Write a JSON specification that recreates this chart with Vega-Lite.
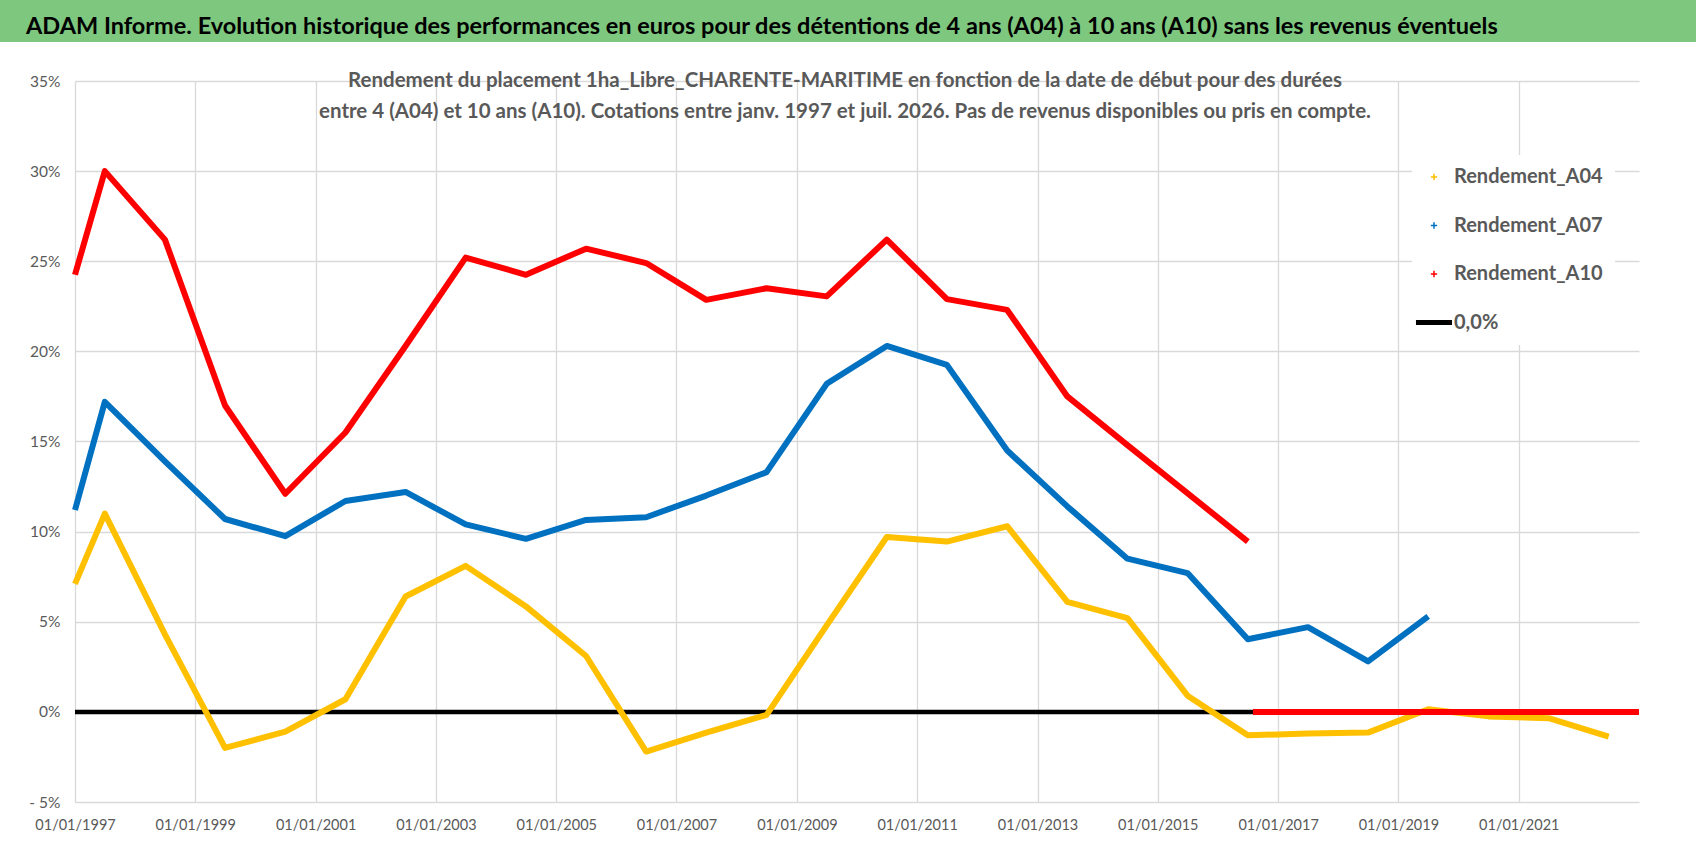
{
  "$schema": "https://vega.github.io/schema/vega-lite/v6.json",
  "padding": 0,
  "background": "white",
  "columns": 1,
  "spacing": 28,
  "config": {"view": {"stroke": null}, "font": "Lato"},
  "concat": [
    {
      "width": 1696,
      "height": 42,
      "view": {"fill": "#7EC77F", "stroke": null},
      "title": {
        "text": "ADAM Informe. Evolution historique des performances en euros pour des détentions de 4 ans (A04) à 10 ans (A10) sans les revenus éventuels",
        "anchor": "start",
        "frame": "group",
        "orient": "bottom",
        "offset": -27,
        "dx": 26,
        "font": "Lato",
        "fontSize": 23.5,
        "fontWeight": "bold",
        "color": "#000000"
      },
      "data": {"values": [{"t": ""}]},
      "mark": {"type": "text"},
      "encoding": {"text": {"field": "t"}}
    },
    {
      "width": 1696,
      "height": 721,
      "title": {
        "text": [
          "Rendement du placement 1ha_Libre_CHARENTE-MARITIME en fonction de la date de début pour des durées",
          "entre 4 (A04) et 10 ans (A10).  Cotations entre janv. 1997 et juil. 2026. Pas de revenus disponibles ou pris en compte."
        ],
        "anchor": "middle",
        "frame": "group",
        "orient": "top",
        "offset": -48,
        "dx": -3,
        "lineHeight": 31,
        "font": "Lato",
        "fontSize": 20.5,
        "fontWeight": "bold",
        "color": "#595959"
      },
      "data": {
        "values": [
          {"date": "1997-01-01", "series": "0,0%", "seg": 0, "value": 0},
          {"date": "2023-01-01", "series": "0,0%", "seg": 0, "value": 0},

          {"date": "1997-01-01", "series": "Rendement_A04", "seg": 1, "value": 0.071},
          {"date": "1997-07-01", "series": "Rendement_A04", "seg": 1, "value": 0.110},
          {"date": "1998-07-01", "series": "Rendement_A04", "seg": 1, "value": 0.043},
          {"date": "1999-07-01", "series": "Rendement_A04", "seg": 1, "value": -0.020},
          {"date": "2000-07-01", "series": "Rendement_A04", "seg": 1, "value": -0.011},
          {"date": "2001-07-01", "series": "Rendement_A04", "seg": 1, "value": 0.007},
          {"date": "2002-07-01", "series": "Rendement_A04", "seg": 1, "value": 0.064},
          {"date": "2003-07-01", "series": "Rendement_A04", "seg": 1, "value": 0.081},
          {"date": "2004-07-01", "series": "Rendement_A04", "seg": 1, "value": 0.0585},
          {"date": "2005-07-01", "series": "Rendement_A04", "seg": 1, "value": 0.031},
          {"date": "2006-07-01", "series": "Rendement_A04", "seg": 1, "value": -0.022},
          {"date": "2007-07-01", "series": "Rendement_A04", "seg": 1, "value": -0.0115},
          {"date": "2008-07-01", "series": "Rendement_A04", "seg": 1, "value": -0.0017},
          {"date": "2009-07-01", "series": "Rendement_A04", "seg": 1, "value": 0.048},
          {"date": "2010-07-01", "series": "Rendement_A04", "seg": 1, "value": 0.097},
          {"date": "2011-07-01", "series": "Rendement_A04", "seg": 1, "value": 0.0945},
          {"date": "2012-07-01", "series": "Rendement_A04", "seg": 1, "value": 0.103},
          {"date": "2013-07-01", "series": "Rendement_A04", "seg": 1, "value": 0.061},
          {"date": "2014-07-01", "series": "Rendement_A04", "seg": 1, "value": 0.052},
          {"date": "2015-07-01", "series": "Rendement_A04", "seg": 1, "value": 0.009},
          {"date": "2016-07-01", "series": "Rendement_A04", "seg": 1, "value": -0.013},
          {"date": "2017-07-01", "series": "Rendement_A04", "seg": 1, "value": -0.012},
          {"date": "2018-07-01", "series": "Rendement_A04", "seg": 1, "value": -0.0115},
          {"date": "2019-07-01", "series": "Rendement_A04", "seg": 1, "value": 0.0015},
          {"date": "2020-07-01", "series": "Rendement_A04", "seg": 1, "value": -0.0025},
          {"date": "2021-07-01", "series": "Rendement_A04", "seg": 1, "value": -0.0035},
          {"date": "2022-07-01", "series": "Rendement_A04", "seg": 1, "value": -0.0137},

          {"date": "1997-01-01", "series": "Rendement_A07", "seg": 1, "value": 0.112},
          {"date": "1997-07-01", "series": "Rendement_A07", "seg": 1, "value": 0.172},
          {"date": "1998-07-01", "series": "Rendement_A07", "seg": 1, "value": 0.139},
          {"date": "1999-07-01", "series": "Rendement_A07", "seg": 1, "value": 0.107},
          {"date": "2000-07-01", "series": "Rendement_A07", "seg": 1, "value": 0.0975},
          {"date": "2001-07-01", "series": "Rendement_A07", "seg": 1, "value": 0.117},
          {"date": "2002-07-01", "series": "Rendement_A07", "seg": 1, "value": 0.122},
          {"date": "2003-07-01", "series": "Rendement_A07", "seg": 1, "value": 0.104},
          {"date": "2004-07-01", "series": "Rendement_A07", "seg": 1, "value": 0.096},
          {"date": "2005-07-01", "series": "Rendement_A07", "seg": 1, "value": 0.1065},
          {"date": "2006-07-01", "series": "Rendement_A07", "seg": 1, "value": 0.108},
          {"date": "2007-07-01", "series": "Rendement_A07", "seg": 1, "value": 0.120},
          {"date": "2008-07-01", "series": "Rendement_A07", "seg": 1, "value": 0.133},
          {"date": "2009-07-01", "series": "Rendement_A07", "seg": 1, "value": 0.182},
          {"date": "2010-07-01", "series": "Rendement_A07", "seg": 1, "value": 0.203},
          {"date": "2011-07-01", "series": "Rendement_A07", "seg": 1, "value": 0.1925},
          {"date": "2012-07-01", "series": "Rendement_A07", "seg": 1, "value": 0.145},
          {"date": "2013-07-01", "series": "Rendement_A07", "seg": 1, "value": 0.114},
          {"date": "2014-07-01", "series": "Rendement_A07", "seg": 1, "value": 0.085},
          {"date": "2015-07-01", "series": "Rendement_A07", "seg": 1, "value": 0.077},
          {"date": "2016-07-01", "series": "Rendement_A07", "seg": 1, "value": 0.0403},
          {"date": "2017-07-01", "series": "Rendement_A07", "seg": 1, "value": 0.047},
          {"date": "2018-07-01", "series": "Rendement_A07", "seg": 1, "value": 0.028},
          {"date": "2019-07-01", "series": "Rendement_A07", "seg": 1, "value": 0.053},

          {"date": "1997-01-01", "series": "Rendement_A10", "seg": 1, "value": 0.2425},
          {"date": "1997-07-01", "series": "Rendement_A10", "seg": 1, "value": 0.300},
          {"date": "1998-07-01", "series": "Rendement_A10", "seg": 1, "value": 0.262},
          {"date": "1999-07-01", "series": "Rendement_A10", "seg": 1, "value": 0.170},
          {"date": "2000-07-01", "series": "Rendement_A10", "seg": 1, "value": 0.121},
          {"date": "2001-07-01", "series": "Rendement_A10", "seg": 1, "value": 0.155},
          {"date": "2002-07-01", "series": "Rendement_A10", "seg": 1, "value": 0.203},
          {"date": "2003-07-01", "series": "Rendement_A10", "seg": 1, "value": 0.252},
          {"date": "2004-07-01", "series": "Rendement_A10", "seg": 1, "value": 0.2425},
          {"date": "2005-07-01", "series": "Rendement_A10", "seg": 1, "value": 0.257},
          {"date": "2006-07-01", "series": "Rendement_A10", "seg": 1, "value": 0.249},
          {"date": "2007-07-01", "series": "Rendement_A10", "seg": 1, "value": 0.2286},
          {"date": "2008-07-01", "series": "Rendement_A10", "seg": 1, "value": 0.235},
          {"date": "2009-07-01", "series": "Rendement_A10", "seg": 1, "value": 0.2305},
          {"date": "2010-07-01", "series": "Rendement_A10", "seg": 1, "value": 0.262},
          {"date": "2011-07-01", "series": "Rendement_A10", "seg": 1, "value": 0.229},
          {"date": "2012-07-01", "series": "Rendement_A10", "seg": 1, "value": 0.223},
          {"date": "2013-07-01", "series": "Rendement_A10", "seg": 1, "value": 0.175},
          {"date": "2014-07-01", "series": "Rendement_A10", "seg": 1, "value": 0.148},
          {"date": "2016-07-01", "series": "Rendement_A10", "seg": 1, "value": 0.0945},
          {"date": "2016-08-01", "series": "Rendement_A10", "seg": 2, "value": 0},
          {"date": "2023-01-01", "series": "Rendement_A10", "seg": 2, "value": 0}
        ]
      },
      "encoding": {
        "x": {
          "field": "date",
          "type": "temporal",
          "scale": {
            "type": "utc",
            "range": [75, 1639],
            "domain": [
              {"year": 1997, "month": 1, "date": 1, "utc": true},
              {"year": 2023, "month": 1, "date": 1, "utc": true}
            ]
          },
          "axis": {
            "title": null,
            "values": [
              {"year": 1997, "month": 1, "date": 1, "utc": true},
              {"year": 1999, "month": 1, "date": 1, "utc": true},
              {"year": 2001, "month": 1, "date": 1, "utc": true},
              {"year": 2003, "month": 1, "date": 1, "utc": true},
              {"year": 2005, "month": 1, "date": 1, "utc": true},
              {"year": 2007, "month": 1, "date": 1, "utc": true},
              {"year": 2009, "month": 1, "date": 1, "utc": true},
              {"year": 2011, "month": 1, "date": 1, "utc": true},
              {"year": 2013, "month": 1, "date": 1, "utc": true},
              {"year": 2015, "month": 1, "date": 1, "utc": true},
              {"year": 2017, "month": 1, "date": 1, "utc": true},
              {"year": 2019, "month": 1, "date": 1, "utc": true},
              {"year": 2021, "month": 1, "date": 1, "utc": true}
            ],
            "format": "%d/%m/%Y",
            "labelFont": "Lato",
            "labelFontSize": 14.5,
            "labelColor": "#595959",
            "labelPadding": 16,
            "labelOverlap": false,
            "labelFlush": false,
            "ticks": false,
            "domain": false,
            "grid": true,
            "gridColor": "#D9D9D9",
            "gridWidth": 1.3
          }
        },
        "y": {
          "field": "value",
          "type": "quantitative",
          "scale": {"domain": [-0.05, 0.35], "nice": false, "zero": false},
          "axis": {
            "title": null,
            "offset": -75,
            "values": [-0.05, 0, 0.05, 0.1, 0.15, 0.2, 0.25, 0.3, 0.35],
            "labelExpr": "datum.value < 0 ? '- ' + format(-datum.value, '.0%') : format(datum.value, '.0%')",
            "labelFont": "Lato",
            "labelFontSize": 15.5,
            "labelColor": "#595959",
            "labelPadding": 15,
            "ticks": false,
            "domain": false,
            "grid": true,
            "gridColor": "#D9D9D9",
            "gridWidth": 1.3
          }
        },
        "color": {
          "field": "series",
          "type": "nominal",
          "scale": {
            "domain": ["Rendement_A04", "Rendement_A07", "Rendement_A10", "0,0%"],
            "range": ["#FFC000", "#0070C0", "#FF0000", "#000000"]
          },
          "legend": {
            "title": null,
            "orient": "none",
            "legendX": 1412,
            "legendY": 155,
            "fillColor": "white",
            "padding": 12,
            "labelFont": "Lato",
            "labelFontSize": 20,
            "labelFontWeight": "bold",
            "labelColor": "#595959",
            "labelOffset": 10,
            "labelLimit": 400,
            "symbolSize": 1300,
            "symbolType": "stroke",
            "rowPadding": 28.5,
            "encode": {
              "symbols": {
                "update": {
                  "shape": {"signal": "datum.value === '0,0%' ? 'stroke' : 'M-1,0H1M0,-1V1'"},
                  "size": {"signal": "datum.value === '0,0%' ? 1300 : 40"},
                  "strokeWidth": {"signal": "datum.value === '0,0%' ? 5 : 1.5"},
                  "stroke": {"scale": "color", "field": "value"}
                }
              }
            }
          }
        },
        "detail": {"field": "seg", "type": "nominal"}
      },
      "layer": [
        {
          "transform": [{"filter": "datum.series === '0,0%'"}],
          "mark": {"type": "line", "strokeWidth": 4.5, "strokeCap": "butt"}
        },
        {
          "transform": [{"filter": "datum.series !== '0,0%'"}],
          "mark": {"type": "line", "strokeWidth": 6, "strokeJoin": "round"}
        }
      ]
    }
  ]
}
